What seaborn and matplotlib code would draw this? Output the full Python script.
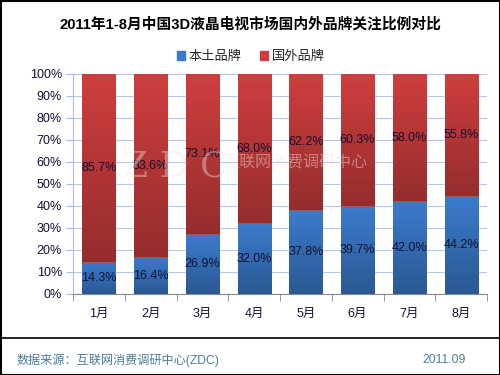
import pandas as pd
import matplotlib.pyplot as plt
import seaborn as sns
import numpy as np
from matplotlib.ticker import FuncFormatter
from matplotlib.patches import Patch
from matplotlib.colors import to_rgb

months = ['1月', '2月', '3月', '4月', '5月', '6月', '7月', '8月']
local = [14.3, 16.4, 26.9, 32.0, 37.8, 39.7, 42.0, 44.2]
foreign = [85.7, 83.6, 73.1, 68.0, 62.2, 60.3, 58.0, 55.8]

df = pd.DataFrame({'month': months, 'local': local, 'foreign': foreign})
df['total'] = df['local'] + df['foreign']

sns.set_style('white')
FONTS = ['Liberation Sans', 'Noto Sans CJK SC', 'DejaVu Sans']
plt.rcParams['font.family'] = FONTS

fig = plt.figure(figsize=(5, 3.75), dpi=100)
ax = fig.add_axes([0.146, 0.216, 0.828, 0.587])

blue = '#3b7bcc'
red = '#cf3e3e'
sns.barplot(data=df, x='month', y='total', color=red, width=0.64, ax=ax,
            saturation=1, zorder=2)
sns.barplot(data=df, x='month', y='local', color=blue, width=0.64, ax=ax,
            saturation=1, zorder=3)

# darker shading toward the bottom of each segment
n = len(months)
for k, p in enumerate(ax.patches):
    x0, w = p.get_x(), p.get_width()
    if k < n:
        y0, y1 = local[k], 100
    else:
        y0, y1 = 0, local[k - n]
    base = np.array(to_rgb(p.get_facecolor()))
    grad = np.linspace(0.72, 1.0, 64).reshape(-1, 1, 1) * base
    im = ax.imshow(grad, extent=[x0, x0 + w, y0, y1], origin='lower',
                   aspect='auto', zorder=p.get_zorder() + 0.1)
    im.set_clip_path(p)

for i, (l, f) in enumerate(zip(local, foreign)):
    ax.text(i, l / 2, f'{l:.1f}%', ha='center', va='center', fontsize=9,
            color='#111133', zorder=6)
    ax.text(i, l + f / 2, f'{f:.1f}%', ha='center', va='center', fontsize=9,
            color='#111133', zorder=6)

ax.set_xlim(-0.5, 7.5)
ax.set_ylim(0, 100)
ax.set_yticks(np.arange(0, 101, 10))
ax.yaxis.set_major_formatter(FuncFormatter(lambda v, _: f'{v:.0f}%'))
ax.yaxis.grid(True, color='#b4c6e6', linewidth=0.8, zorder=0)
ax.set_axisbelow(True)
ax.set_xlabel('')
ax.set_ylabel('')
for s in ['top', 'right']:
    ax.spines[s].set_visible(False)
ax.spines['left'].set_color('#a8bde0')
ax.spines['bottom'].set_color('#888888')
ax.tick_params(axis='y', labelsize=9, length=5, color='#a8bde0', left=True,
               pad=3, labelcolor='#111133')
ax.tick_params(axis='x', labelsize=9, length=0, pad=10, labelcolor='#111133')
ax.set_xticks(np.arange(-0.5, 8, 1), minor=True)
ax.tick_params(axis='x', which='minor', bottom=True, length=5, color='#888888')

# watermark
fig.text(0.35, 0.555, 'Z D C', fontsize=26, color='#f4e4e4', alpha=0.4,
         ha='center', va='center', family='DejaVu Serif', zorder=7)
fig.text(0.446, 0.565, '互联网消费调研中心', fontsize=11.5, color='#f4e4e4',
         alpha=0.45, ha='left', va='center', zorder=7)

fig.text(0.5, 0.935, '2011年1-8月中国3D液晶电视市场国内外品牌关注比例对比',
         ha='center', va='center', fontsize=10.6, fontweight='bold',
         color='black')

handles = [Patch(color=blue), Patch(color=red)]
fig.legend(handles, ['本土品牌', '国外品牌'], loc='center',
           bbox_to_anchor=(0.502, 0.848), ncol=2, frameon=False, fontsize=9.5,
           handlelength=0.6, handleheight=0.6, handletextpad=0.3,
           columnspacing=1.4)

fig.add_artist(plt.Line2D([0, 1], [0.099, 0.099], color='black', linewidth=1.2))
fig.add_artist(plt.Rectangle((0.001, 0.001), 0.998, 0.997, fill=False,
                             edgecolor='black', linewidth=1.5))
fig.text(0.034, 0.04, '数据来源：互联网消费调研中心(ZDC)', fontsize=8.7,
         color='#4a7d9c', va='center')
fig.text(0.932, 0.04, '2011.09', fontsize=8.7, color='#4a7d9c', va='center',
         ha='right')

fig.savefig('out.png', dpi=100)
